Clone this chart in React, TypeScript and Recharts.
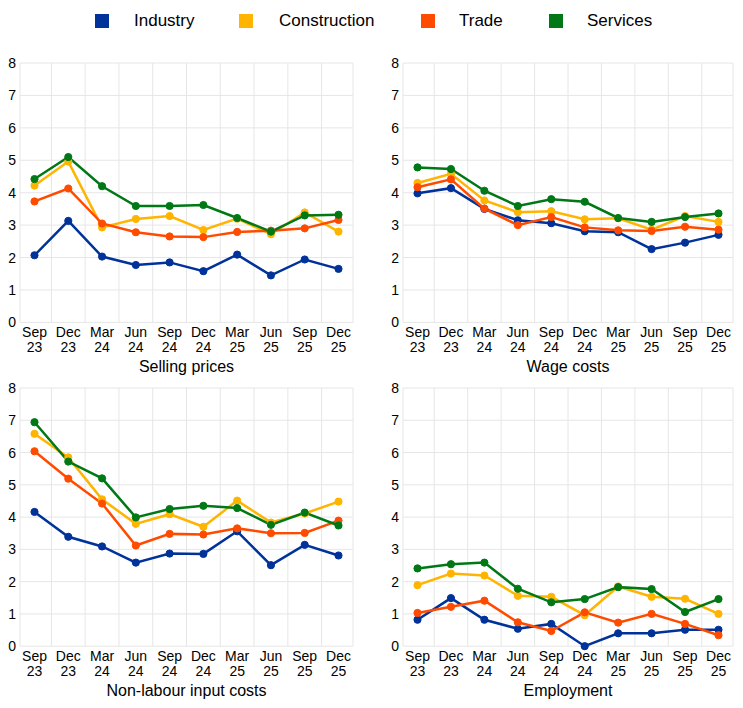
import React from "react";
import { LineChart, Line, XAxis, YAxis, CartesianGrid } from "recharts";

const FONT = "'Liberation Sans', Arial, sans-serif";

const quarters = ["Sep 23", "Dec 23", "Mar 24", "Jun 24", "Sep 24", "Dec 24", "Mar 25", "Jun 25", "Sep 25", "Dec 25"];
const yTicks = [0, 1, 2, 3, 4, 5, 6, 7, 8];

const sectors = ["Industry", "Construction", "Trade", "Services"];
const COLORS = ["#003299", "#FFB400", "#FF4B00", "#007816"];

// selling prices
const sellingIndustry = [2.07, 3.13, 2.03, 1.77, 1.85, 1.58, 2.09, 1.45, 1.94, 1.65];
const sellingConstruction = [4.22, 4.96, 2.93, 3.19, 3.28, 2.85, 3.2, 2.72, 3.39, 2.8];
const sellingTrade = [3.73, 4.13, 3.05, 2.78, 2.65, 2.63, 2.79, 2.83, 2.9, 3.16];
const sellingServices = [4.42, 5.1, 4.2, 3.59, 3.59, 3.62, 3.22, 2.8, 3.3, 3.32];

// wage costs
const wageIndustry = [3.98, 4.14, 3.5, 3.15, 3.06, 2.81, 2.78, 2.26, 2.46, 2.7];
const wageConstruction = [4.3, 4.58, 3.76, 3.4, 3.43, 3.18, 3.21, 2.86, 3.28, 3.1];
const wageTrade = [4.17, 4.41, 3.51, 3.0, 3.25, 2.93, 2.84, 2.82, 2.95, 2.86];
const wageServices = [4.78, 4.73, 4.06, 3.59, 3.8, 3.72, 3.22, 3.1, 3.25, 3.36];

// non-labour input costs
const inputIndustry = [4.16, 3.39, 3.09, 2.59, 2.87, 2.86, 3.56, 2.51, 3.14, 2.81];
const inputConstruction = [6.58, 5.85, 4.55, 3.79, 4.09, 3.7, 4.51, 3.83, 4.11, 4.48];
const inputTrade = [6.04, 5.19, 4.42, 3.12, 3.48, 3.46, 3.65, 3.5, 3.51, 3.89];
const inputServices = [6.94, 5.72, 5.2, 3.99, 4.25, 4.35, 4.28, 3.76, 4.14, 3.74];

// employment
const empIndustry = [0.82, 1.49, 0.82, 0.54, 0.69, 0.0, 0.4, 0.4, 0.51, 0.51];
const empConstruction = [1.89, 2.25, 2.19, 1.56, 1.53, 0.96, 1.85, 1.53, 1.47, 1.0];
const empTrade = [1.03, 1.22, 1.41, 0.74, 0.47, 1.05, 0.73, 1.0, 0.69, 0.34];
const empServices = [2.41, 2.54, 2.59, 1.78, 1.36, 1.46, 1.83, 1.77, 1.06, 1.46];

const build = (series: number[][]) =>
  quarters.map((q, i) => {
    const row: any = { q };
    sectors.forEach((s, k) => (row[s] = series[k][i]));
    return row;
  });

const QuarterTick = ({ x, y, payload }: any) => {
  const [m, yr] = String(payload.value).split(" ");
  return (
    <text x={x} y={y} textAnchor="middle" fontSize={14} fill="#000" fontFamily={FONT}>
      <tspan x={x} dy={15}>{m}</tspan>
      <tspan x={x} dy={15}>{yr}</tspan>
    </text>
  );
};

function Panel({
  plotLeft,
  plotTop,
  plotW,
  plotH,
  title,
  titleY,
  series,
}: {
  plotLeft: number;
  plotTop: number;
  plotW: number;
  plotH: number;
  title: string;
  titleY: number;
  series: number[][];
}) {
  const data = build(series);
  const yAxisW = 20;
  const top = 10;
  const right = 10;
  const xAxisH = 40;
  const pad = 14.5;
  const step = (plotW - 2 * pad) / (quarters.length - 1);
  const vLines = [yAxisW];
  for (let i = 1; i < quarters.length; i++) vLines.push(yAxisW + pad + (i - 0.5) * step);
  vLines.push(yAxisW + plotW);
  return (
    <>
      <div style={{ position: "absolute", left: plotLeft - yAxisW, top: plotTop - top }}>
        <LineChart
          width={yAxisW + plotW + right}
          height={top + plotH + xAxisH}
          data={data}
          margin={{ top, right, bottom: 0, left: 0 }}
        >
          <CartesianGrid stroke="#e6e6e6" strokeWidth={1} verticalPoints={vLines} />
          <XAxis
            dataKey="q"
            interval={0}
            height={xAxisH}
            tickLine={false}
            axisLine={false}
            tickSize={0}
            tickMargin={0}
            padding={{ left: pad, right: pad }}
            tick={<QuarterTick />}
          />
          <YAxis
            width={yAxisW}
            domain={[0, 8]}
            ticks={yTicks}
            interval={0}
            tickLine={false}
            axisLine={false}
            tickSize={0}
            tickMargin={4}
            tick={{ fontSize: 14, fill: "#000", fontFamily: FONT }}
          />
          {sectors.map((s, k) => (
            <Line
              key={s}
              dataKey={s}
              stroke={COLORS[k]}
              strokeWidth={2.5}
              dot={{ r: 3.6, fill: COLORS[k], stroke: COLORS[k], strokeWidth: 1 }}
              activeDot={false}
              isAnimationActive={false}
            />
          ))}
        </LineChart>
      </div>
      <div
        style={{
          position: "absolute",
          left: plotLeft,
          width: plotW,
          top: titleY - 10,
          height: 20,
          lineHeight: "20px",
          textAlign: "center",
          fontSize: 16,
          fontFamily: FONT,
          color: "#000",
        }}
      >
        {title}
      </div>
    </>
  );
}

const legendSquares = [95, 239, 421, 549];
const legendTexts = [134, 279, 459, 587];

export default function App() {
  return (
    <div
      style={{
        position: "absolute",
        left: 0,
        top: 0,
        width: 743,
        height: 708,
        background: "#fff",
        fontFamily: FONT,
      }}
    >
      {sectors.map((s, k) => (
        <React.Fragment key={s}>
          <div
            style={{
              position: "absolute",
              left: legendSquares[k],
              top: 14,
              width: 14,
              height: 14,
              background: COLORS[k],
            }}
          />
          <div
            style={{
              position: "absolute",
              left: legendTexts[k],
              top: 10,
              height: 22,
              lineHeight: "22px",
              fontSize: 17,
              color: "#000",
              whiteSpace: "nowrap",
            }}
          >
            {s}
          </div>
        </React.Fragment>
      ))}
      <Panel
        plotLeft={20}
        plotTop={63.3}
        plotW={333}
        plotH={259.4}
        title="Selling prices"
        titleY={367}
        series={[sellingIndustry, sellingConstruction, sellingTrade, sellingServices]}
      />
      <Panel
        plotLeft={403}
        plotTop={63.3}
        plotW={330}
        plotH={259.4}
        title="Wage costs"
        titleY={367}
        series={[wageIndustry, wageConstruction, wageTrade, wageServices]}
      />
      <Panel
        plotLeft={20}
        plotTop={387.7}
        plotW={333}
        plotH={258.2}
        title="Non-labour input costs"
        titleY={691}
        series={[inputIndustry, inputConstruction, inputTrade, inputServices]}
      />
      <Panel
        plotLeft={403}
        plotTop={387.7}
        plotW={330}
        plotH={258.2}
        title="Employment"
        titleY={691}
        series={[empIndustry, empConstruction, empTrade, empServices]}
      />
    </div>
  );
}
